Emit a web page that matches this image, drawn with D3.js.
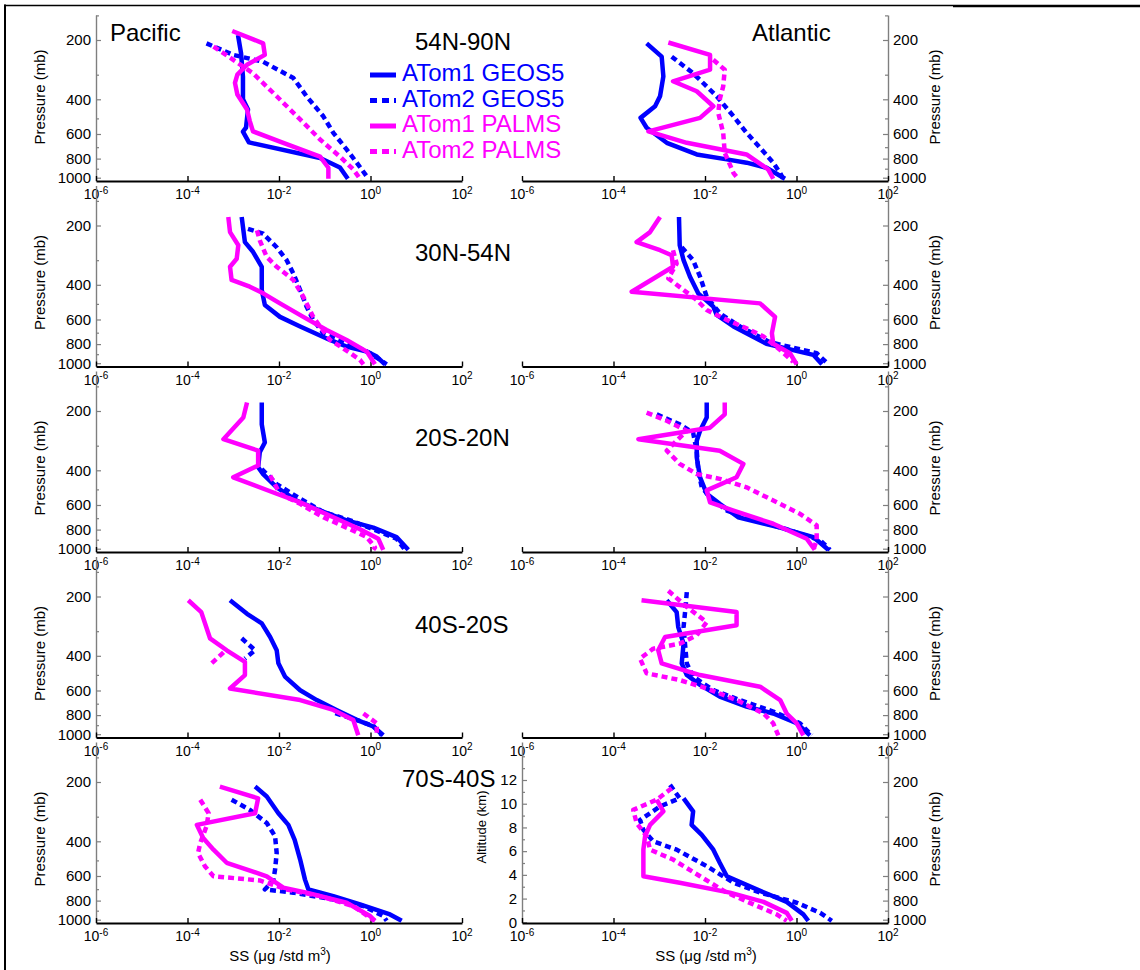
<!DOCTYPE html>
<html>
<head>
<meta charset="utf-8">
<script src="https://cdn.jsdelivr.net/npm/d3@7"></script>
<style>
  body { margin: 0; background: #fff; }
  svg { display: block; font-family: "Liberation Sans", Arial, Helvetica, sans-serif; }
</style>
</head>
<body>
<svg id="chart" width="1140" height="970"></svg>
<script>
// ---- labels / ticks ----
const oceans = ["Pacific", "Atlantic"];
const regions = ["54N-90N", "30N-54N", "20S-20N", "40S-20S", "70S-40S"];
const seriesNames = ["ATom1 GEOS5", "ATom2 GEOS5", "ATom1 PALMS", "ATom2 PALMS"];
const xTicks = [1e-6, 1e-4, 1e-2, 1, 1e2];
const pTicks = [200, 400, 600, 800, 1000];
const pMinor = [150, 300, 500, 700, 900];
const altTicks = [0, 2, 4, 6, 8, 10, 12];
const altMinor = [1, 3, 5, 7, 9, 11, 13, 14];

// ---- data: [SS ug/std m3, pressure mb]; null = gap ----
// 54N-90N
const pac54N90N_geos1 = [[1.27e-3,189],[1.48e-3,233],[1.63e-3,307],[1.63e-3,400],[2.1e-3,451],[1.9e-3,557],[1.63e-3,584],[2.2e-3,662],[7.9e-2,794],[0.215,887],[0.32,1013]];
const pac54N90N_geos2 = [[2.6e-4,208],[1.0e-3,238],[4.5e-3,258],[2.06e-2,312],[4.0e-2,386],[9.3e-2,488],[0.154,592],[0.30,718],[0.50,839],[0.83,985],[0.85,1013]];
const pac54N90N_palms1 = [[9.5e-4,180],[4.5e-3,208],[4.9e-3,238],[2.0e-3,267],[1.23e-3,300],[1.09e-3,330],[1.23e-3,378],[2.0e-3,451],[2.3e-3,516],[2.7e-3,582],[1.24e-2,665],[7.9e-2,782],[0.12,890],[0.12,1013]];
const pac54N90N_palms2 = [[3.7e-4,216],[1.0e-3,252],[2.7e-3,295],[8.9e-3,386],[2.9e-2,506],[7.9e-2,640],[0.215,782],[0.42,907],[0.59,1013]];
const atl54N90N_geos1 = [[5.3e-4,208],[1.13e-3,243],[1.23e-3,306],[1.04e-3,386],[8.1e-4,434],[3.9e-4,497],[5.3e-4,558],[1.46e-3,665],[6.6e-3,762],[3.0e-2,807],[8.1e-2,839],[0.22,890],[0.56,1013]];
const atl54N90N_geos2 = [[1.87e-3,243],[5.5e-3,295],[1.8e-2,386],[4.2e-2,488],[8.1e-2,592],[0.16,704],[0.31,839],[0.44,947],[0.51,1013]];
const atl54N90N_palms1 = [[1.58e-3,206],[1.29e-2,238],[1.29e-2,283],[2.0e-3,324],[6.6e-3,364],[1.52e-2,434],[7.8e-3,497],[5.8e-4,582],[4.0e-3,665],[8.1e-2,762],[0.24,907],[0.31,1013]];
const atl54N90N_palms2 = [[1.52e-2,252],[2.7e-2,283],[2.5e-2,344],[2.1e-2,400],[1.95e-2,470],[2.5e-2,592],[2.7e-2,747],[4.2e-2,947],[5.3e-2,1013]];
// 30N-54N
const pac30N54N_geos1 = [[1.53e-3,181],[1.8e-3,243],[2.7e-3,272],[4.2e-3,324],[4.2e-3,425],[4.9e-3,506],[1.05e-2,582],[2.9e-2,651],[0.13,762],[0.30,823],[0.83,873],[1.37,926],[2.07,1013]];
const pac30N54N_geos2 = [[2.1e-3,208],[4.5e-3,220],[8.9e-3,258],[1.47e-2,300],[2.06e-2,351],[2.9e-2,425],[4.0e-2,516],[5.6e-2,603],[9.3e-2,704],[0.36,797],[0.98,890],[2.26,1013]];
const pac30N54N_palms1 = [[7.8e-4,181],[8.5e-4,216],[1.29e-3,252],[1.19e-3,295],[8.5e-4,324],[9.2e-4,378],[2.3e-3,409],[4.5e-3,442],[1.05e-2,497],[3.4e-2,582],[0.11,678],[0.30,762],[0.83,873],[1.25,1013]];
const pac30N54N_palms2 = [[3.3e-3,212],[3.8e-3,238],[5.4e-3,289],[8.9e-3,324],[2.06e-2,378],[3.4e-2,460],[5.6e-2,582],[7.9e-2,651],[0.13,762],[0.25,839],[0.59,962],[0.70,1013]];
const atl30N54N_geos1 = [[2.7e-3,181],[2.8e-3,252],[3.4e-3,300],[4.7e-3,364],[7.1e-3,442],[1.52e-2,516],[1.8e-2,569],[4.2e-2,651],[0.22,797],[2.33,907],[3.6,1013]];
const atl30N54N_geos2 = [[3.1e-3,258],[5.5e-3,300],[7.8e-3,364],[1.09e-2,460],[2.1e-2,558],[5.8e-2,651],[0.26,782],[2.76,890],[4.95,1013]];
const atl30N54N_palms1 = [[1.04e-3,181],[6.3e-4,216],[3.2e-4,243],[1.04e-3,267],[1.87e-3,283],[2.0e-3,324],[2.5e-4,434],[0.16,497],[0.34,582],[0.29,704],[0.31,797],[0.72,890],[1.01,1013]];
const atl30N54N_palms2 = [[2.0e-3,267],[2.4e-3,312],[1.58e-3,371],[3.4e-3,425],[6.6e-3,478],[1.09e-2,537],[3.0e-2,603],[8.1e-2,665],[0.19,732],[0.44,856],[0.85,985]];
// 20S-20N
const pac20S20N_geos1 = [[4.2e-3,181],[4.2e-3,234],[4.9e-3,289],[3.8e-3,324],[3.5e-3,386],[4.5e-3,418],[8.9e-3,488],[2.4e-2,569],[7.9e-2,640],[0.30,718],[1.15,782],[3.7,873],[6.7,1013]];
const pac20S20N_geos2 = [[4.2e-3,394],[8.9e-3,470],[2.9e-2,558],[9.3e-2,651],[0.36,718],[1.15,797],[3.7,890],[5.7,1013]];
const pac20S20N_palms1 = [[2.0e-3,181],[1.66e-3,216],[6.1e-4,278],[3.5e-3,318],[3.5e-3,378],[1.0e-3,434],[8.9e-3,526],[2.9e-2,582],[0.154,692],[0.59,797],[1.48,890],[1.9,1013]];
const pac20S20N_palms2 = [[6.4e-3,425],[1.05e-2,526],[2.9e-2,592],[9.3e-2,692],[0.36,797],[0.83,873],[1.25,985],[1.15,1013]];
const atl20S20N_geos1 = [[1.09e-2,181],[1.09e-2,216],[7.8e-3,252],[6.6e-3,283],[6.6e-3,344],[7.8e-3,434],[1.09e-2,526],[2.1e-2,592],[5.3e-2,692],[0.44,782],[2.33,873],[4.95,1013]];
const atl20S20N_geos2 = [[8.8e-4,208],[2.8e-3,234],[5.5e-3,258],[6.6e-3,318],[7.1e-3,401],[8.5e-3,488],[1.29e-2,547],[3.0e-2,640],[9.6e-2,704],[0.61,797],[3.3,907],[5.4,1013]];
const atl20S20N_palms1 = [[2.7e-2,181],[2.7e-2,208],[1.29e-2,243],[3.5e-4,278],[2.1e-2,318],[6.9e-2,371],[4.9e-2,434],[1.09e-2,506],[1.29e-2,582],[4.2e-2,640],[0.31,747],[1.67,890],[2.5,1013]];
const atl20S20N_palms2 = [[5.3e-4,204],[1.46e-3,224],[4.0e-3,252],[2.4e-3,283],[1.46e-3,318],[2.8e-3,371],[6.6e-3,418],[2.1e-2,442],[8.1e-2,488],[0.31,569],[1.19,665],[2.76,762],[2.76,907],[2.33,1013]];
// 40S-20S
const pac40S20S_geos1 = [[8.5e-4,209],[2.0e-3,245],[4.2e-3,274],[6.4e-3,321],[8.9e-3,375],[9.7e-3,437],[1.35e-2,510],[2.9e-2,598],[6.7e-2,671],[0.18,753],[0.50,846],[1.15,914],[1.9,1013]];
const pac40S20S_geos2 = [[1.53e-3,326],[3.0e-3,375],[1.8e-3,413],null,[0.17,782],[0.49,846],[1.15,907],[1.78,1013]];
const pac40S20S_palms1 = [[1.04e-4,209],[2.0e-4,240],[3.1e-4,326],[7.2e-4,375],[1.8e-3,429],[1.8e-3,501],[8.5e-4,586],[2.9e-2,671],[0.154,753],[0.42,846],[0.54,1013]];
const pac40S20S_palms2 = [[3.4e-4,436],[6.6e-4,378],null,[0.70,785],[1.37,880],[1.37,1013]];
const atl40S20S_geos1 = [[1.46e-3,209],[2.4e-3,240],[2.6e-3,286],[3.4e-3,347],[3.1e-3,437],[4.0e-3,501],[7.8e-3,562],[2.1e-2,645],[8.1e-2,724],[0.31,785],[1.01,880],[1.97,1013]];
const atl40S20S_geos2 = [[4.0e-3,190],[3.7e-3,235],[3.4e-3,286],[3.7e-3,360],[4.0e-3,437],[5.5e-3,510],[1.52e-2,598],[5.8e-2,671],[0.31,768],[1.19,880],[2.15,1013]];
const atl40S20S_palms1 = [[4.1e-4,209],[4.9e-2,240],[4.9e-2,280],[1.34e-3,321],[9.5e-4,375],[1.13e-3,437],[3.4e-3,473],[7.8e-3,501],[0.16,574],[0.44,671],[0.61,785],[1.01,880],[1.41,1013]];
const atl40S20S_palms2 = [[1.58e-3,187],[4.0e-3,226],[1.09e-2,270],[6.6e-3,315],[2.8e-3,347],[7.4e-4,368],[3.8e-4,413],[5.3e-4,491],[2.8e-3,531],[1.09e-2,586],[4.9e-2,671],[0.19,785],[0.31,880],[0.40,1013]];
// 70S-40S
const pac70S40S_geos1 = [[3.0e-3,211],[5.4e-3,237],[9.7e-3,288],[1.6e-2,330],[2.2e-2,393],[2.9e-2,495],[3.7e-2,626],[4.4e-2,702],[0.154,759],[0.59,836],[2.67,940],[4.8,1013]];
const pac70S40S_geos2 = [[9.2e-4,246],[2.3e-3,277],[5.4e-3,323],[8.2e-3,377],[8.9e-3,459],[8.2e-3,557],[7.5e-3,632],[4.9e-3,702],[2.06e-2,729],[0.154,789],[0.70,853],[1.9,958],[2.26,1013]];
const pac70S40S_palms1 = [[5.1e-4,211],[3.5e-3,242],[3.0e-3,288],[1.6e-4,330],[2.2e-4,385],[3.7e-4,441],[7.2e-4,514],[5.4e-3,602],[1.24e-2,687],[4.0e-2,729],[0.30,820],[0.98,958],[1.25,1013]];
const pac70S40S_palms2 = [[1.9e-4,246],[2.9e-4,288],[2.6e-4,336],[1.9e-4,408],[1.7e-4,459],[2.4e-4,535],[3.7e-4,602],[3.8e-3,632],[1.47e-2,702],[7.9e-2,759],[0.42,853],[0.98,977],[1.25,1013]];
const atl70S40S_geos1 = [[3.4e-3,242],[5.5e-3,282],[5.1e-3,330],[8.5e-3,371],[1.52e-2,441],[2.1e-2,514],[3.0e-2,602],[0.135,702],[0.61,812],[1.41,940],[1.81,1013]];
const atl70S40S_geos2 = [[1.72e-3,207],[2.8e-3,242],[1.04e-3,266],[3.8e-4,312],[4.5e-4,350],[7.4e-4,400],[2.4e-3,441],[1.09e-2,535],[4.2e-2,649],[0.16,729],[1.01,820],[3.3,923],[5.9,1013]];
const atl70S40S_palms1 = [[8.8e-4,246],[1.23e-3,282],[6.3e-4,330],[4.9e-4,377],[4.5e-4,441],[4.5e-4,514],[4.5e-4,602],[2.8e-3,649],[3.5e-2,729],[0.19,812],[0.61,923],[0.79,1013]];
const atl70S40S_palms2 = [[1.87e-3,215],[8.8e-4,246],[2.7e-4,277],[3.2e-4,323],[5.3e-4,377],[6.3e-4,441],[2.0e-3,495],[7.8e-3,602],[3.0e-2,729],[0.114,836],[0.37,940],[0.61,1013]];

// panel table built from the arrays above: [row][col] -> 4 series
const panelData = [
  [[pac54N90N_geos1, pac54N90N_geos2, pac54N90N_palms1, pac54N90N_palms2], [atl54N90N_geos1, atl54N90N_geos2, atl54N90N_palms1, atl54N90N_palms2]],
  [[pac30N54N_geos1, pac30N54N_geos2, pac30N54N_palms1, pac30N54N_palms2], [atl30N54N_geos1, atl30N54N_geos2, atl30N54N_palms1, atl30N54N_palms2]],
  [[pac20S20N_geos1, pac20S20N_geos2, pac20S20N_palms1, pac20S20N_palms2], [atl20S20N_geos1, atl20S20N_geos2, atl20S20N_palms1, atl20S20N_palms2]],
  [[pac40S20S_geos1, pac40S20S_geos2, pac40S20S_palms1, pac40S20S_palms2], [atl40S20S_geos1, atl40S20S_geos2, atl40S20S_palms1, atl40S20S_palms2]],
  [[pac70S40S_geos1, pac70S40S_geos2, pac70S40S_palms1, pac70S40S_palms2], [atl70S40S_geos1, atl70S40S_geos2, atl70S40S_palms1, atl70S40S_palms2]]
];

// ---- layout ----
const colX = [[96, 462], [522, 888]];
const row200 = [40, 225.5, 411, 596.5, 782];   // pixel of the 200 mb tick per row
const pxPerDecade = 197;
const seriesColor = ["#0000ff", "#0000ff", "#ff00ff", "#ff00ff"];
const seriesDash = [null, "6,4", null, "6,4"];
const regionPos = [[415, 50], [415, 261], [415, 446], [415, 633], [402, 787]];
const axisGray = "#7f7f7f";

const svg = d3.select("#chart");

// figure frame
svg.append("line").attr("x1", 4).attr("x2", 953).attr("y1", 5.5).attr("y2", 5.5)
  .attr("stroke", "#000").attr("stroke-width", 1.6);
svg.append("line").attr("x1", 953).attr("x2", 1140).attr("y1", 6).attr("y2", 6)
  .attr("stroke", "#000").attr("stroke-width", 2.4);
svg.append("line").attr("x1", 5).attr("x2", 5).attr("y1", 4.5).attr("y2", 970)
  .attr("stroke", "#000").attr("stroke-width", 2);

const line = d3.line().defined(d => d !== null);

for (let r = 0; r < 5; r++) {
  for (let c = 0; c < 2; c++) {
    const x = d3.scaleLog().domain([1e-6, 1e2]).range(colX[c]);
    const y = d3.scaleLog().domain([200, 1000])
      .range([row200[r], row200[r] + pxPerDecade * Math.log10(5)]);
    const top = r === 0 ? 15 : row200[r] - 40;
    const bottom = row200[r] + 141;
    const yAx = y.copy().domain([y.invert(bottom), y.invert(top)]).range([bottom, top]);

    const g = svg.append("g");

    // pressure axis (left on Pacific, right on Atlantic)
    const ax0 = c === 0 ? colX[0][0] : colX[1][1];
    const mk = c === 0 ? d3.axisLeft : d3.axisRight;
    const pa = g.append("g").attr("transform", `translate(${ax0},0)`)
      .call(mk(yAx).tickValues(pTicks).tickSize(-5).tickSizeOuter(0).tickPadding(5)
        .tickFormat(d3.format("d")));
    pa.select(".domain").attr("stroke", axisGray).attr("stroke-width", 1.4);
    pa.selectAll(".tick line").attr("stroke", axisGray).attr("stroke-width", 1.2);
    pa.selectAll(".tick text").attr("font-size", 15).attr("fill", "#000")
      .attr("font-family", null);
    const pm = g.append("g").attr("transform", `translate(${ax0},0)`)
      .call(mk(yAx).tickValues(pMinor).tickSize(-3).tickFormat(""));
    pm.select(".domain").remove();
    pm.selectAll(".tick line").attr("stroke", axisGray).attr("stroke-width", 1.2);

    // pressure label
    const lx = c === 0 ? 45 : 940;
    g.append("text").attr("transform", `translate(${lx},${row200[r] + 57}) rotate(-90)`)
      .attr("text-anchor", "middle").attr("font-size", 15).text("Pressure (mb)");

    // altitude axis on the last Atlantic panel
    if (r === 4 && c === 1) {
      const alt = d3.scaleLinear().domain([0, 12]).range([row200[r] + 140.3, row200[r] - 2]);
      const altAx = alt.copy().domain([alt.invert(bottom), alt.invert(top)]).range([bottom, top]);
      const aa = g.append("g").attr("transform", `translate(${colX[1][0]},0)`)
        .call(d3.axisLeft(altAx).tickValues(altTicks).tickSize(-5).tickSizeOuter(0).tickPadding(5));
      aa.select(".domain").attr("stroke", axisGray).attr("stroke-width", 1.4);
      aa.selectAll(".tick line").attr("stroke", axisGray).attr("stroke-width", 1.2);
      aa.selectAll(".tick text").attr("font-size", 15).attr("fill", "#000").attr("font-family", null);
      const am = g.append("g").attr("transform", `translate(${colX[1][0]},0)`)
        .call(d3.axisLeft(altAx).tickValues(altMinor).tickSize(-3).tickFormat(""));
      am.select(".domain").remove();
      am.selectAll(".tick line").attr("stroke", axisGray).attr("stroke-width", 1.2);
      g.append("text").attr("transform", `translate(486,${row200[r] + 45}) rotate(-90)`)
        .attr("text-anchor", "middle").attr("font-size", 13).text("Altitude (km)");
    }

    // SS axis
    const xa = g.append("g").attr("transform", `translate(0,${bottom})`)
      .call(d3.axisBottom(x).tickValues(xTicks).tickSize(-5).tickSizeOuter(0).tickFormat(""));
    xa.select(".domain").attr("stroke", "#000").attr("stroke-width", 2.2);
    xa.selectAll(".tick line").attr("stroke", "#000").attr("stroke-width", 1.4);
    xTicks.forEach(t => {
      const tx = g.append("text").attr("x", x(t)).attr("y", bottom + 18)
        .attr("text-anchor", "middle").attr("font-size", 14);
      tx.append("tspan").text("10");
      tx.append("tspan").attr("font-size", 10).attr("dy", -5.5).text(String(Math.round(Math.log10(t))));
    });
    if (r === 4) {
      const st = g.append("text").attr("x", (colX[c][0] + colX[c][1]) / 2 + 1).attr("y", bottom + 38)
        .attr("text-anchor", "middle").attr("font-size", 15);
      st.append("tspan").text("SS (\u03bcg /std m");
      st.append("tspan").attr("font-size", 10).attr("dy", -6).text("3");
      st.append("tspan").attr("dy", 6).text(")");
    }

    // profiles
    panelData[r][c].forEach((s, k) => {
      g.append("path")
        .attr("d", line.x(d => x(d[0])).y(d => y(d[1]))(s))
        .attr("fill", "none")
        .attr("stroke", seriesColor[k])
        .attr("stroke-width", 4.5)
        .attr("stroke-linejoin", "round")
        .attr("stroke-dasharray", seriesDash[k]);
    });
  }

  svg.append("text").attr("x", regionPos[r][0]).attr("y", regionPos[r][1])
    .attr("font-size", 24).text(regions[r]);
}

// ocean titles
svg.append("text").attr("x", 110).attr("y", 41).attr("font-size", 24).text(oceans[0]);
svg.append("text").attr("x", 752).attr("y", 41).attr("font-size", 24).text(oceans[1]);

// legend
const lg = svg.append("g");
seriesNames.forEach((n, k) => {
  const ly = 75 + 25.5 * k;
  lg.append("line").attr("x1", 370).attr("x2", 396).attr("y1", ly).attr("y2", ly)
    .attr("stroke", seriesColor[k]).attr("stroke-width", 5)
    .attr("stroke-dasharray", seriesDash[k] ? "7,5" : null);
  lg.append("text").attr("x", 402).attr("y", ly + 6).attr("font-size", 24)
    .attr("fill", seriesColor[k]).text(n);
});
</script>
</body>
</html>
